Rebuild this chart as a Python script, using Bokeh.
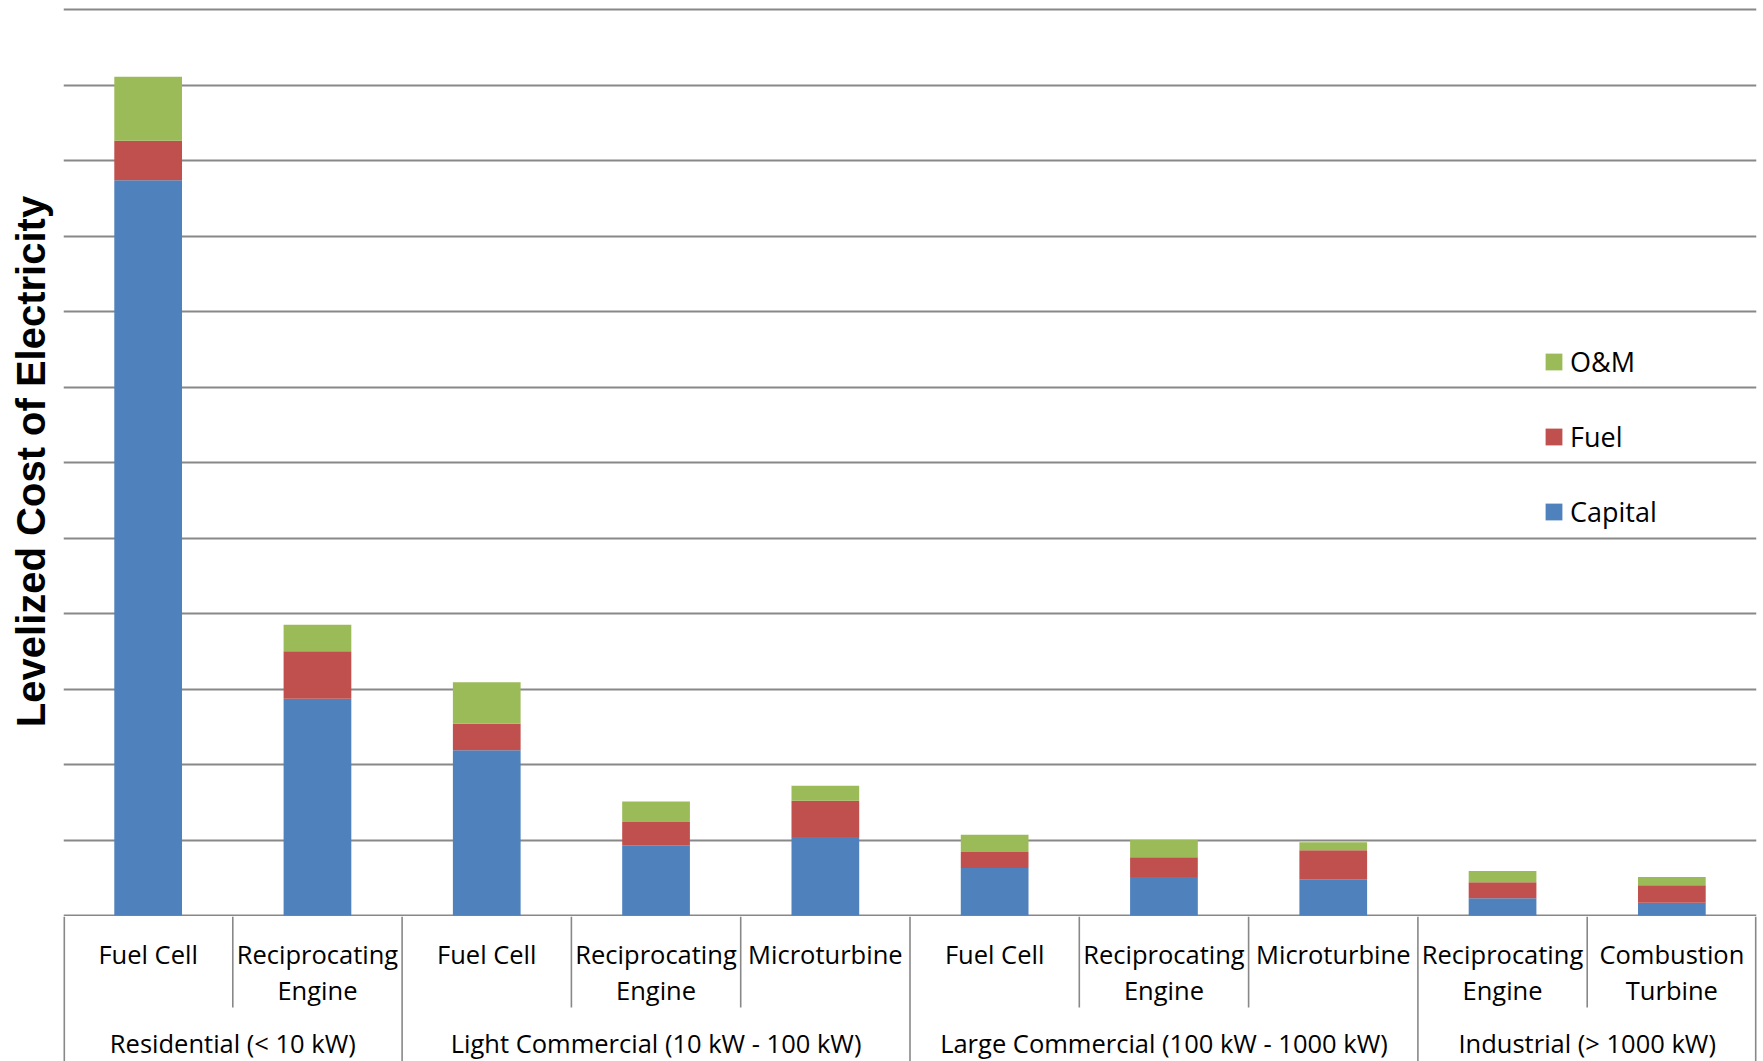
from bokeh.plotting import figure
from bokeh.layouts import column
from bokeh.models import Range1d, FixedTicker, Legend, LegendItem, ColumnDataSource
from bokeh.core.properties import value
from bokeh.embed import file_html
from bokeh.resources import INLINE

# ---------------- data ----------------
groups = ["Residential (< 10 kW)", "Light Commercial (10 kW - 100 kW)",
          "Large Commercial (100 kW - 1000 kW)", "Industrial (> 1000 kW)"]
group_sizes = [2, 3, 3, 2]
technologies = ["Fuel Cell", "Reciprocating\nEngine",
                "Fuel Cell", "Reciprocating\nEngine", "Microturbine",
                "Fuel Cell", "Reciprocating\nEngine", "Microturbine",
                "Reciprocating\nEngine", "Combustion\nTurbine"]
capital = [9.74, 2.87, 2.19, 0.93, 1.04, 0.63, 0.51, 0.48, 0.23, 0.17]
fuel = [0.52, 0.63, 0.35, 0.31, 0.48, 0.21, 0.26, 0.385, 0.21, 0.23]
om = [0.85, 0.35, 0.55, 0.27, 0.20, 0.23, 0.23, 0.105, 0.15, 0.11]
series = ["Capital", "Fuel", "O&M"]
colors = ["#4F81BD", "#C0504D", "#9BBB59"]
y_ticks = list(range(0, 13))

# ---------------- layout constants ----------------
W = 1763
LEFT = 63
RIGHT = 7
UNIT = 75.5          # px per grid step
N = len(technologies)
GRID_COLOR = "#888888"
FONT = "Open Sans"

centers = [i + 0.5 for i in range(N)]
src = ColumnDataSource(dict(x=centers, Capital=capital, Fuel=fuel, **{"O&M": om}))

ymax = y_ticks[-1]
top_h = 916
p = figure(width=W, height=top_h, output_backend="svg", toolbar_location=None,
           x_range=Range1d(0, N), y_range=Range1d(-1 / UNIT, ymax + 3 / UNIT),
           x_axis_location=None, min_border_left=LEFT, min_border_right=RIGHT,
           min_border_top=6, min_border_bottom=0, outline_line_color=None,
           background_fill_color="white", border_fill_color="white")
p.xgrid.visible = False
p.ygrid.ticker = FixedTicker(ticks=y_ticks)
p.ygrid.grid_line_color = GRID_COLOR
p.ygrid.grid_line_width = 2
p.yaxis.ticker = FixedTicker(ticks=[])
p.yaxis.major_label_text_font_size = "0px"
p.yaxis.major_tick_line_color = None
p.yaxis.minor_tick_line_color = None
p.yaxis.axis_line_color = None
p.yaxis.major_label_standoff = 0
p.yaxis.axis_label = "Levelized Cost of Electricity"
p.yaxis.axis_label_text_font = "Liberation Sans"
p.yaxis.axis_label_text_font_style = "bold"
p.yaxis.axis_label_text_font_size = "40px"
p.yaxis.axis_label_text_color = "black"
p.yaxis.axis_label_standoff = 11

rends = p.vbar_stack(series, x="x", width=0.4, color=colors, line_color=None, source=src)

items = [LegendItem(label=s, renderers=[r]) for s, r in reversed(list(zip(series, rends)))]
legend = Legend(items=items, location=(1480, 386), orientation="vertical",
                glyph_width=21, glyph_height=21, label_height=37, spacing=38,
                label_standoff=6, padding=0, margin=0,
                label_text_font=FONT, label_text_font_size="27px",
                label_text_color="black", background_fill_alpha=0,
                border_line_color=None)
p.add_layout(legend)

# ---------------- category axis panel ----------------
bot_h = 1061 - top_h
p2 = figure(width=W, height=bot_h, output_backend="svg", toolbar_location=None,
            x_range=Range1d(0, N), y_range=Range1d(-bot_h - 1, -1),
            x_axis_location=None, y_axis_location=None,
            min_border_left=LEFT, min_border_right=RIGHT,
            min_border_top=0, min_border_bottom=0, outline_line_color=None,
            background_fill_color="white", border_fill_color="white")
p2.xgrid.visible = False
p2.ygrid.visible = False

bounds = list(range(N + 1))
group_bounds = [0]
for s in group_sizes:
    group_bounds.append(group_bounds[-1] + s)
sep_bottom = [-bot_h - 1 if b in group_bounds else -92 for b in bounds]
sep_width = [3.2 if b in (0, N) else 1.6 for b in bounds]
p2.segment(x0=bounds, y0=[-1] * len(bounds), x1=bounds, y1=sep_bottom,
           line_color=GRID_COLOR, line_width=sep_width)

line1 = [t.split("\n")[0] for t in technologies]
line2 = [t.split("\n")[1] if "\n" in t else "" for t in technologies]
txt = dict(text_align="center", text_baseline="middle", text_font=value(FONT),
           text_font_size="25.5px", text_color="black")
p2.text(x=centers, y=[-38.5] * N, text=line1, **txt)
p2.text(x=centers, y=[-74.5] * N, text=line2, **txt)
group_centers = [(group_bounds[i] + group_bounds[i + 1]) / 2 for i in range(len(groups))]
p2.text(x=group_centers, y=[-127.5] * len(groups), text=groups, **txt)

layout = column(p, p2, spacing=0)
open("out.html", "w").write(file_html(layout, INLINE))
